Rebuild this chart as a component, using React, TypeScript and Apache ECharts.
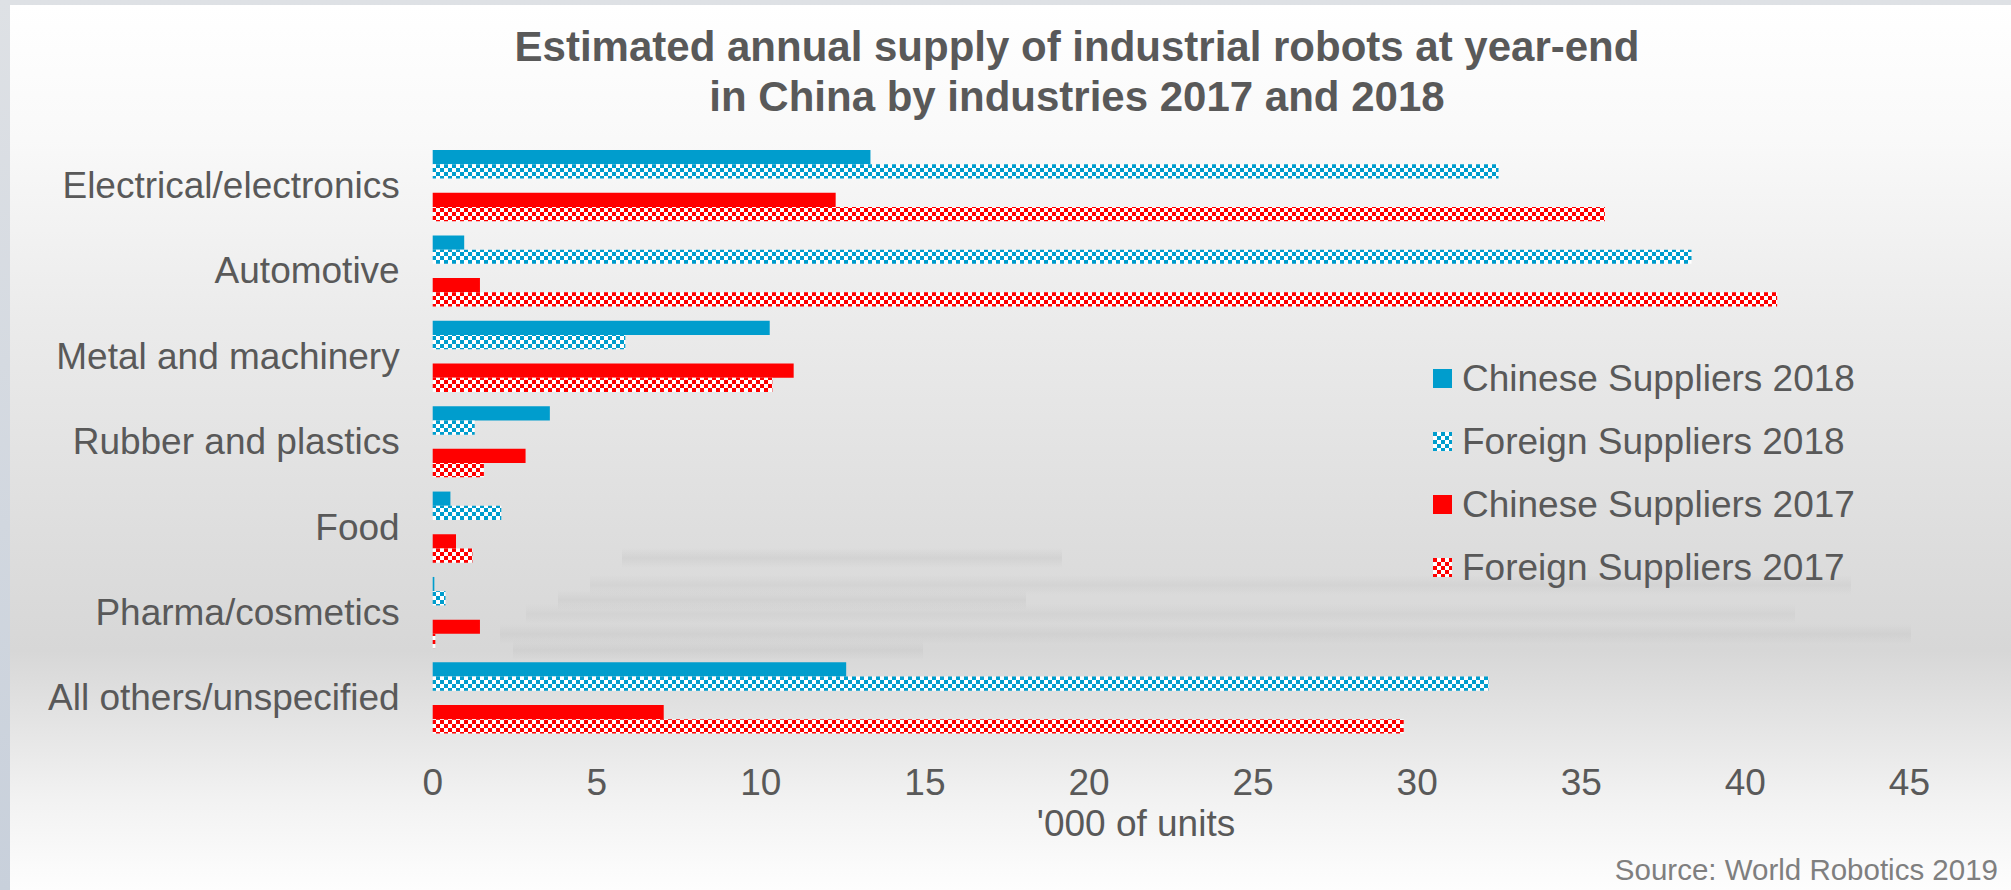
import React, { useEffect, useRef } from 'react';
import * as echarts from 'echarts';

const categories = [
  'Electrical/electronics',
  'Automotive',
  'Metal and machinery',
  'Rubber and plastics',
  'Food',
  'Pharma/cosmetics',
  'All others/unspecified',
];
const chinese2018 = [13.34, 0.96, 10.27, 3.57, 0.54, 0.05, 12.6];
const foreign2018 = [32.48, 38.36, 5.87, 1.28, 2.09, 0.39, 32.17];
const chinese2017 = [12.28, 1.44, 11.0, 2.83, 0.71, 1.44, 7.04];
const foreign2017 = [35.72, 40.97, 10.35, 1.56, 1.21, 0.08, 29.59];
const seriesNames = [
  'Chinese Suppliers 2018',
  'Foreign Suppliers 2018',
  'Chinese Suppliers 2017',
  'Foreign Suppliers 2017',
];
const xMin = 0;
const xMax = 45;
const xInterval = 5;

const titleText = 'Estimated annual supply of industrial robots at year-end\nin China by industries 2017 and 2018';
const axisNameText = "'000 of units";
const sourceText = 'Source: World Robotics 2019';

const BLUE = '#009DCD';
const RED = '#FF0000';
const TEXT = '#595959';
const FONT = '"Liberation Sans", Arial, Helvetica, sans-serif';

// faint blurred streaks present in the background of the original picture
const streaks = [
  [622, 1062, 558, 0.08],
  [590, 1851, 585, 0.06],
  [558, 1026, 600, 0.07],
  [526, 1795, 614, 0.05],
  [500, 1911, 634, 0.06],
  [513, 923, 650, 0.06],
];

function checker(color: string) {
  const c = document.createElement('canvas');
  c.width = 8;
  c.height = 8;
  const ctx = c.getContext('2d') as CanvasRenderingContext2D;
  ctx.fillStyle = '#ffffff';
  ctx.fillRect(0, 0, 8, 8);
  ctx.fillStyle = color;
  ctx.fillRect(0, 0, 4, 4);
  ctx.fillRect(4, 4, 4, 4);
  return { image: c, repeat: 'repeat' };
}

export default function App() {
  const ref = useRef<HTMLDivElement>(null);
  useEffect(() => {
    document.body.style.margin = '0';
    const chart = echarts.init(ref.current as HTMLDivElement, null, { renderer: 'svg' });
    const W = 2011;
    const H = 890;
    const panelStops = [
      [0, '#ffffff'],
      [140, '#f9f9f9'],
      [320, '#ebebeb'],
      [530, '#dedede'],
      [650, '#d7d7d7'],
      [750, '#e9e9e9'],
      [800, '#f2f2f2'],
      [870, '#fbfbfb'],
      [890, '#fdfdfd'],
    ].map(([y, c]) => ({ offset: Math.max(0, ((y as number) - 5) / 885), color: c as string }));

    const common = {
      type: 'bar' as const,
      barGap: '0%',
      barCategoryGap: '16.67%',
    };

    const streakEls = streaks.map(([x1, x2, yc, a]) => ({
      type: 'rect',
      z: -50,
      silent: true,
      shape: { x: x1, y: yc - 10, width: x2 - x1, height: 20 },
      style: {
        fill: new echarts.graphic.LinearGradient(0, 0, 0, 1, [
          { offset: 0, color: 'rgba(100,100,100,0)' },
          { offset: 0.5, color: `rgba(100,100,100,${a})` },
          { offset: 1, color: 'rgba(100,100,100,0)' },
        ]),
      },
    }));

    chart.setOption({
      animation: false,
      textStyle: { fontFamily: FONT },
      title: {
        text: titleText,
        left: 1077,
        top: 21,
        padding: 0,
        textAlign: 'center',
        textStyle: {
          fontFamily: FONT,
          fontSize: 42,
          fontWeight: 'bold',
          color: TEXT,
          lineHeight: 50,
        },
      },
      graphic: [
        {
          type: 'rect',
          z: -100,
          silent: true,
          shape: { x: 0, y: 0, width: W, height: H },
          style: {
            fill: new echarts.graphic.LinearGradient(0, 0, 0, 1, [
              { offset: 0, color: '#dee1e5' },
              { offset: 1, color: '#c8d0db' },
            ]),
          },
        },
        {
          type: 'rect',
          z: -99,
          silent: true,
          shape: { x: 10, y: 5, width: W - 10, height: H - 5 },
          style: { fill: new echarts.graphic.LinearGradient(0, 0, 0, 1, panelStops) },
        },
        ...streakEls,
        {
          type: 'text',
          x: 1136,
          y: 823,
          style: {
            text: axisNameText,
            font: `37px ${FONT}`,
            fill: TEXT,
            align: 'center',
            verticalAlign: 'middle',
          },
        },
        {
          type: 'text',
          x: 1998,
          y: 869,
          style: {
            text: sourceText,
            font: `29.5px ${FONT}`,
            fill: '#7f7f7f',
            align: 'right',
            verticalAlign: 'middle',
          },
        },
      ],
      legend: {
        orient: 'vertical',
        left: 1433,
        top: 358.5,
        padding: 0,
        itemWidth: 19,
        itemHeight: 19,
        itemGap: 23,
        icon: 'rect',
        data: seriesNames,
        textStyle: {
          fontFamily: FONT,
          fontSize: 37,
          lineHeight: 40,
          color: TEXT,
          padding: [0, 0, 0, 5],
        },
      },
      grid: {
        left: 432.7,
        top: 142.9,
        width: 1476.7,
        height: 597.7,
        containLabel: false,
      },
      xAxis: {
        type: 'value',
        min: xMin,
        max: xMax,
        interval: xInterval,
        axisLine: { show: false },
        axisTick: { show: false },
        splitLine: { show: false },
        axisLabel: {
          fontFamily: FONT,
          fontSize: 37,
          lineHeight: 40,
          color: TEXT,
          margin: 22,
        },
      },
      yAxis: {
        type: 'category',
        inverse: true,
        data: categories,
        axisLine: { show: false },
        axisTick: { show: false },
        splitLine: { show: false },
        axisLabel: {
          fontFamily: FONT,
          fontSize: 37,
          color: TEXT,
          margin: 33,
        },
      },
      series: [
        { ...common, name: seriesNames[0], data: chinese2018, itemStyle: { color: BLUE } },
        { ...common, name: seriesNames[1], data: foreign2018, itemStyle: { color: checker(BLUE) } },
        { ...common, name: 'spacer', data: [] },
        { ...common, name: seriesNames[2], data: chinese2017, itemStyle: { color: RED } },
        { ...common, name: seriesNames[3], data: foreign2017, itemStyle: { color: checker(RED) } },
      ],
    });
    return () => chart.dispose();
  }, []);
  return <div ref={ref} style={{ position: 'absolute', left: 0, top: 0, width: 2011, height: 890 }} />;
}
